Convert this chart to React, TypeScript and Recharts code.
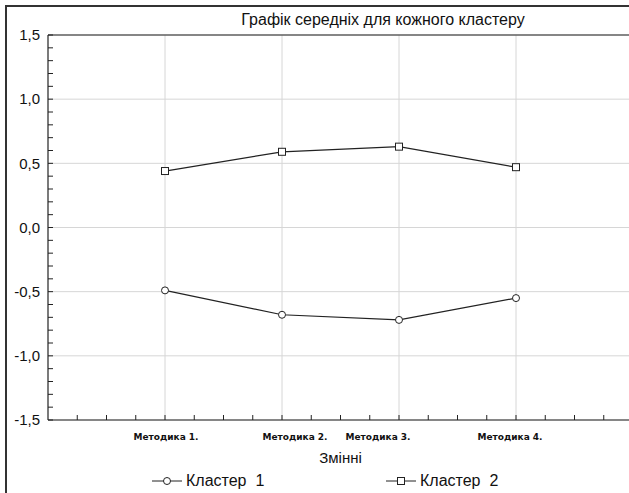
import React from "react";
import {
  LineChart,
  Line,
  XAxis,
  YAxis,
  CartesianGrid,
  Legend,
} from "recharts";

// categories on the X axis
const methods = ["Методика 1.", "Методика 2.", "Методика 3.", "Методика 4."];
// cluster means
const cluster1 = [-0.49, -0.68, -0.72, -0.55];
const cluster2 = [0.44, 0.59, 0.63, 0.47];
const seriesNames = ["Кластер  1", "Кластер  2"];

const yMajor = [-1.5, -1, -0.5, 0, 0.5, 1, 1.5];
const xMajor = [1, 2, 3, 4];

const chartTitle = "Графік середніх для кожного кластеру";
const xTitle = "Змінні";

// minor tick positions
const xMinor: number[] = [];
for (let i = 1; i < 20; i++) xMinor.push(i / 4);
const yMinor: number[] = [];
for (let i = -15; i <= 15; i++) yMinor.push(i / 10);

const data = methods.map((m, i) => ({
  x: i + 1,
  name: m,
  k1: cluster1[i],
  k2: cluster2[i],
}));

const FONT = "'Liberation Sans', Arial, sans-serif";
const INK = "#222";

// the labels in the source are not quite centred under their gridlines
const labelNudge = [1, 13, -21, -6];

const XTick = (props: any) => {
  const { x, y, payload } = props;
  const v = payload.value;
  if (!Number.isInteger(v) || v < 1 || v > methods.length) return null;
  return (
    <text
      x={x + labelNudge[v - 1]}
      y={y + 20}
      textAnchor="middle"
      fontFamily="'DejaVu Sans', Verdana, sans-serif"
      fontWeight="bold"
      fontSize={9}
      fill="#111"
    >
      {methods[v - 1]}
    </text>
  );
};

const yLabel = (v: number) => {
  const r = Math.round(v * 10);
  if (r % 5 !== 0) return "";
  return (r / 10).toFixed(1).replace(".", ",").replace("-0,0", "0,0");
};

const SquareDot = (props: any) => {
  const { cx, cy } = props;
  if (cx == null || cy == null) return null;
  return (
    <rect x={cx - 3.5} y={cy - 3.5} width={7} height={7} fill="#fff" stroke={INK} strokeWidth={1} />
  );
};

const CircleDot = (props: any) => {
  const { cx, cy } = props;
  if (cx == null || cy == null) return null;
  return <circle cx={cx} cy={cy} r={3.5} fill="#fff" stroke={INK} strokeWidth={1} />;
};

const LegendBox = () => (
  <div style={{ position: "relative", height: 24, fontFamily: FONT, fontSize: 16, color: "#111" }}>
    {[152, 386].map((left, i) => (
      <div key={i} style={{ position: "absolute", left, top: 2, display: "flex", alignItems: "center", height: 20 }}>
        <svg width={32} height={12}>
          <line x1={0} y1={6} x2={30} y2={6} stroke={INK} strokeWidth={1} />
          {i === 0 ? (
            <circle cx={15} cy={6} r={3.5} fill="#fff" stroke={INK} />
          ) : (
            <rect x={11.5} y={2.5} width={7} height={7} fill="#fff" stroke={INK} />
          )}
        </svg>
        <span style={{ marginLeft: 2, whiteSpace: "pre" }}>{seriesNames[i]}</span>
      </div>
    ))}
  </div>
);

export default function App() {
  return (
    <div
      style={{
        position: "absolute",
        left: 0,
        top: 0,
        width: 629,
        height: 493,
        overflow: "hidden",
        background: "#fff",
      }}
    >
      <div
        style={{
          position: "absolute",
          left: 5,
          top: 5,
          width: 640,
          height: 500,
          borderLeft: "2px solid #333",
          borderTop: "2px solid #333",
        }}
      />
      <div
        style={{
          position: "absolute",
          left: 383,
          top: 11,
          transform: "translateX(-50%)",
          whiteSpace: "nowrap",
          fontFamily: FONT,
          fontSize: 16,
          color: "#111",
        }}
      >
        {chartTitle}
      </div>
      <div style={{ position: "absolute", left: 0, top: 0 }}>
        <LineChart
          width={634}
          height={493}
          data={data}
          margin={{ top: 34, right: 0, bottom: 0, left: 0 }}
        >
          <CartesianGrid
            stroke="#d6d6d6"
            strokeWidth={1}
            verticalValues={xMajor}
            horizontalValues={yMajor}
          />
          <XAxis
            dataKey="x"
            type="number"
            domain={[0, 5]}
            ticks={xMinor}
            interval={0}
            height={49}
            tickSize={-5}
            tickMargin={5}
            tick={<XTick />}
            axisLine={{ stroke: INK, strokeWidth: 1.2 }}
            tickLine={{ stroke: INK }}
            label={{
              value: xTitle,
              position: "insideBottom",
              offset: 6,
              style: { fontSize: 15, fill: "#111", fontFamily: FONT },
            }}
          />
          <XAxis
            xAxisId="top"
            orientation="top"
            dataKey="x"
            type="number"
            domain={[0, 5]}
            ticks={xMinor}
            interval={0}
            height={1}
            tickSize={-5}
            tick={false}
            axisLine={{ stroke: INK, strokeWidth: 1.2 }}
            tickLine={{ stroke: INK }}
          />
          <YAxis
            type="number"
            domain={[-1.5, 1.5]}
            ticks={yMinor}
            interval={0}
            width={48}
            tickSize={-5}
            tickMargin={13}
            tickFormatter={yLabel}
            tick={{ fontSize: 15, fill: "#111", fontFamily: FONT }}
            axisLine={{ stroke: INK, strokeWidth: 1.2 }}
            tickLine={{ stroke: INK }}
          />
          <YAxis
            yAxisId="r"
            orientation="right"
            type="number"
            domain={[-1.5, 1.5]}
            ticks={yMinor}
            interval={0}
            width={1}
            tickSize={-5}
            tick={false}
            axisLine={{ stroke: INK, strokeWidth: 1.2 }}
            tickLine={{ stroke: INK }}
          />
          <Legend verticalAlign="bottom" height={24} content={<LegendBox />} />
          <Line
            dataKey="k1"
            name={seriesNames[0]}
            stroke={INK}
            strokeWidth={1.2}
            dot={<CircleDot />}
            activeDot={false}
            isAnimationActive={false}
          />
          <Line
            dataKey="k2"
            name={seriesNames[1]}
            stroke={INK}
            strokeWidth={1.2}
            dot={<SquareDot />}
            activeDot={false}
            isAnimationActive={false}
          />
        </LineChart>
      </div>
    </div>
  );
}
